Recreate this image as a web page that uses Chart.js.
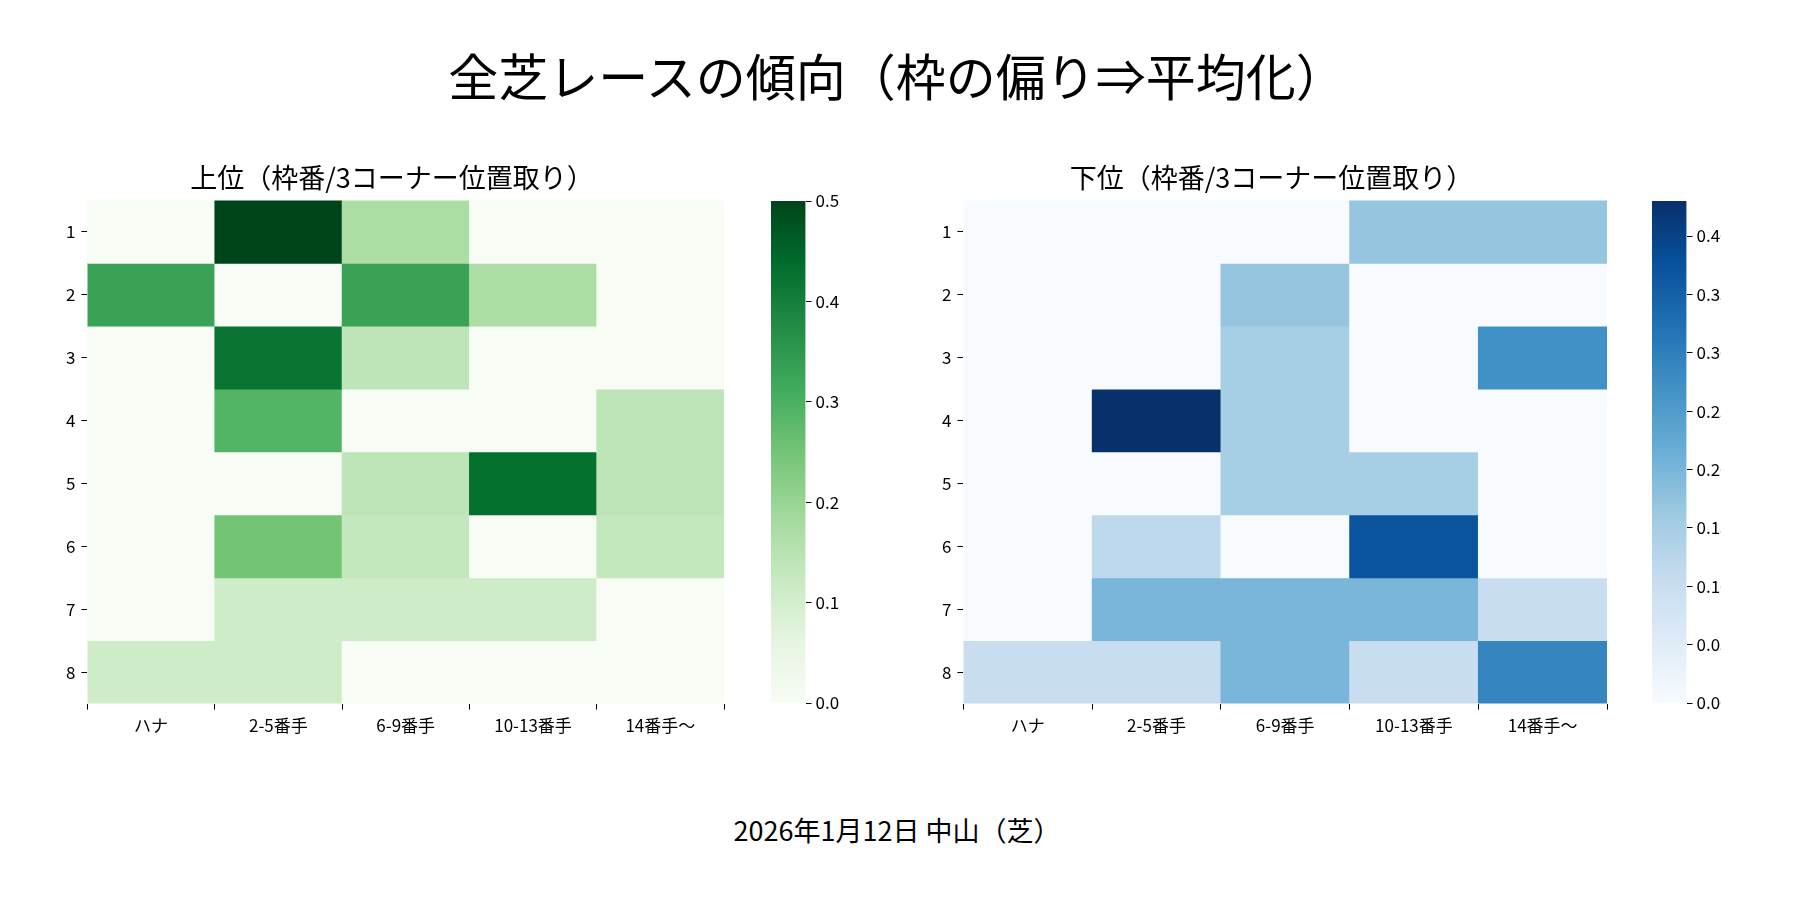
<!DOCTYPE html>
<html><head><meta charset="utf-8">
<script src="https://cdn.jsdelivr.net/npm/chart.js@4"></script>
<style>
body{margin:0;width:1800px;height:900px;background:#fff;font-family:"Noto Sans CJK JP";position:relative;overflow:hidden}
canvas{position:absolute}
.t{position:absolute;width:100%;text-align:center;color:#000}
</style></head><body>
<div class="t" style="top:38px;font-size:50px;left:-3px">全芝レースの傾向（枠の偏り⇒平均化）</div>
<div class="t" style="top:810px;font-size:27px;left:-3px">2026年1月12日 中山（芝）</div>
<canvas id="h1" style="left:30px;top:150px"></canvas>
<canvas id="c1" style="left:760px;top:150px"></canvas>
<canvas id="h2" style="left:912px;top:150px"></canvas>
<canvas id="c2" style="left:1641px;top:150px"></canvas>
<script>
const cols = ["ハナ","2-5番手","6-9番手","10-13番手","14番手〜"];
const rows = ["1","2","3","4","5","6","7","8"];
const topVals = [
  [0,0.5,0.17,0,0],
  [0.33,0,0.33,0.17,0],
  [0,0.42,0.14,0,0],
  [0,0.29,0,0,0.14],
  [0,0,0.14,0.43,0.14],
  [0,0.25,0.13,0,0.13],
  [0,0.11,0.11,0.11,0],
  [0.11,0.11,0,0,0]
];
const lowVals = [
  [0,0,0,0.17,0.17],
  [0,0,0.17,0,0],
  [0,0,0.15,0,0.27],
  [0,0.43,0.15,0,0],
  [0,0,0.15,0.15,0],
  [0,0.12,0,0.37,0],
  [0,0.2,0.2,0.2,0.1],
  [0.1,0.1,0.2,0.1,0.29]
];
const greens = ["#f7fcf5","#e5f5e0","#c7e9c0","#a1d99b","#74c476","#41ab5d","#238b45","#006d2c","#00441b"];
const blues = ["#f7fbff","#deebf7","#c6dbef","#9ecae1","#6baed6","#4292c6","#2171b5","#08519c","#08306b"];
function hex(h){return [1,3,5].map(i=>parseInt(h.substr(i,2),16));}
function cmap(stops,t){
  t=Math.max(0,Math.min(1,t));
  const p=t*(stops.length-1),i=Math.min(Math.floor(p),stops.length-2),f=p-i;
  const a=hex(stops[i]),b=hex(stops[i+1]);
  return "rgb("+a.map((v,k)=>Math.round(v+(b[k]-v)*f)).join(",")+")";
}
const font={family:"Noto Sans CJK JP",size:17};
const tickGrid={drawOnChartArea:false,drawTicks:true,tickLength:6,color:"#000"};
Chart.defaults.color="#000";
function heat(id,title,vals,stops,vmax,pad){
  const cv=document.getElementById(id);cv.width=720;cv.height=600;
  new Chart(cv,{type:"bar",
    data:{labels:cols,datasets:vals.map((r,i)=>({label:rows[i],data:r.map(()=>1),
      backgroundColor:r.map(v=>cmap(stops,v/vmax)),borderWidth:0,
      categoryPercentage:1,barPercentage:1}))},
    options:{responsive:false,animation:false,
      layout:{padding:pad},
      plugins:{legend:{display:false},tooltip:{enabled:false},
        title:{display:true,text:title,font:{family:"Noto Sans CJK JP",size:27,weight:"normal"},padding:{top:0,bottom:6}}},
      scales:{
        x:{stacked:true,grid:tickGrid,border:{display:false},ticks:{font:font,padding:6}},
        y:{stacked:true,reverse:true,min:0,max:8,grid:tickGrid,border:{display:false},
          afterBuildTicks:a=>{a.ticks=rows.map((r,i)=>({value:i+0.5}));},
          ticks:{font:font,padding:6,callback:(v,i)=>rows[i]}}
      }}});
}
function bar(id,stops,vmax,step,dec,pl){
  const cv=document.getElementById(id);cv.width=110;cv.height=600;
  new Chart(cv,{type:"bar",
    data:{labels:[""],datasets:[{data:[[0,vmax]],borderWidth:0,categoryPercentage:1,barPercentage:1,
      backgroundColor:c=>{const a=c.chart.chartArea;if(!a)return stops[0];
        const g=c.chart.ctx.createLinearGradient(0,a.bottom,0,a.top);
        stops.forEach((s,i)=>g.addColorStop(i/(stops.length-1),s));return g;}}]},
    options:{responsive:false,animation:false,
      layout:{padding:{top:51,bottom:47,left:pl,right:30}},
      plugins:{legend:{display:false},tooltip:{enabled:false}},
      scales:{x:{display:false},
        y:{position:"right",min:0,max:vmax,grid:tickGrid,border:{display:false},
          afterBuildTicks:a=>{a.ticks=a.ticks.filter(t=>Math.abs(t.value/step-Math.round(t.value/step))<1e-6);},
          ticks:{font:font,stepSize:step,padding:4,callback:v=>v.toFixed(dec)}}}}});
}
heat("h1","上位（枠番/3コーナー位置取り）",topVals,greens,0.5,{left:30,right:26,top:12,bottom:8});
heat("h2","下位（枠番/3コーナー位置取り）",lowVals,blues,0.43,{left:24,right:25,top:12,bottom:8});
bar("c1",greens,0.5,0.1,1,11);
bar("c2",blues,0.43,0.05,2,11);
</script></body></html>
